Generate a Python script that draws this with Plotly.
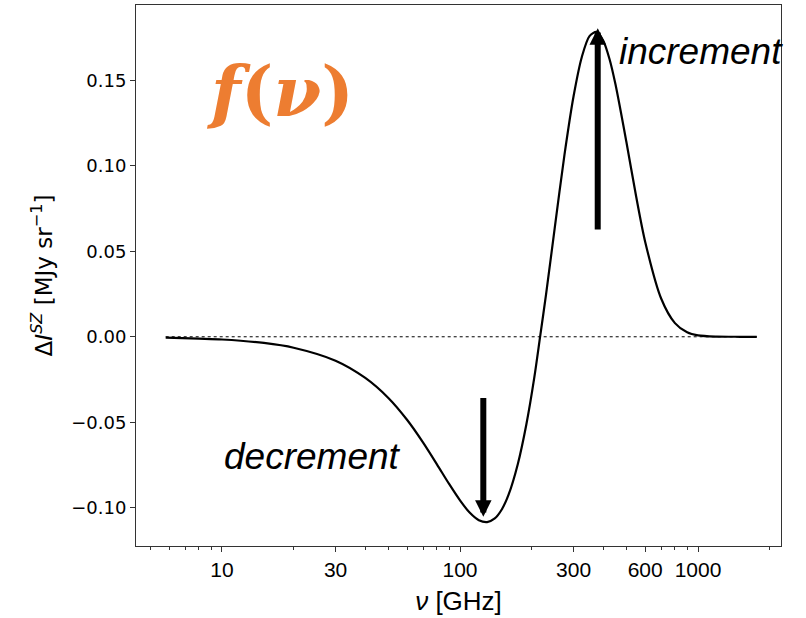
import math
import plotly.graph_objects as go

# ---- data ----
freq_ghz = [5.8, 8, 10, 15, 20, 30, 40, 50, 60, 70, 80, 90, 100, 110, 120, 130, 140,
            150, 160, 175, 190, 205, 217, 230, 250, 275, 300, 325, 350, 375, 400, 425,
            450, 500, 550, 600, 700, 800, 900, 1000, 1200, 1500, 1766]
delta_i = [-0.0005, -0.0011, -0.0016, -0.0036, -0.0064, -0.0140, -0.0241, -0.0358,
           -0.0487, -0.0619, -0.0746, -0.0861, -0.0957, -0.1030, -0.1073, -0.1084,
           -0.1063, -0.1009, -0.0924, -0.0744, -0.0513, -0.0242, 0.0000, 0.0249,
           0.0636, 0.1068, 0.1407, 0.1637, 0.1759, 0.1784, 0.1732, 0.1624, 0.1477,
           0.1141, 0.0819, 0.0555, 0.0224, 0.0080, 0.0026, 0.0008, 0.0001, 0.0000, 0.0000]

x_tick_vals = [10, 30, 100, 300, 600, 1000]
x_tick_text = ["10", "30", "100", "300", "600", "1000"]
x_minor_vals = [5, 6, 7, 8, 9, 20, 40, 50, 60, 70, 80, 90, 200, 400, 500, 700, 800, 900, 2000]
y_tick_vals = [-0.10, -0.05, 0.00, 0.05, 0.10, 0.15]
y_tick_text = ["\u22120.10", "\u22120.05", "0.00", "0.05", "0.10", "0.15"]

# arrows: (frequency, tail value, head value)
decrement_arrow = (125.3, -0.0350, -0.1053)
increment_arrow = (379.0, 0.0619, 0.1805)

fig = go.Figure()
fig.add_trace(go.Scatter(
    x=[freq_ghz[0], freq_ghz[-1]], y=[0, 0], mode="lines",
    line=dict(color="black", width=1, dash="dot"), showlegend=False, hoverinfo="skip"))
fig.add_trace(go.Scatter(
    x=freq_ghz, y=delta_i, mode="lines",
    line=dict(color="black", width=2.2, shape="spline", smoothing=0.8),
    showlegend=False))

for (f, tail, head) in [decrement_arrow, increment_arrow]:
    lx = math.log10(f)
    fig.add_annotation(x=lx, y=head, ax=lx, ay=tail, xref="x", yref="y",
                       axref="x", ayref="y", text="", showarrow=True,
                       arrowhead=2, arrowsize=0.55, arrowwidth=6, arrowcolor="black")

fig.add_annotation(x=2.66, y=0.1668, xref="x", yref="y", text="<i>increment</i>",
                   showarrow=False, xanchor="left", yanchor="middle",
                   font=dict(family="Liberation Sans, Arial", size=37, color="black"))
fig.add_annotation(x=1.0, y=-0.0703, xref="x", yref="y", text="<i>decrement</i>",
                   showarrow=False, xanchor="left", yanchor="middle",
                   font=dict(family="Liberation Sans, Arial", size=37, color="black"))
fig.add_annotation(x=0.105, y=0.84, xref="paper", yref="paper",
                   text="<b><i>f</i>(<i>\u03bd</i>)</b>",
                   showarrow=False, xanchor="left", yanchor="middle",
                   font=dict(family="DejaVu Serif", size=69, color="#ED7D31"))

fig.update_layout(
    width=806, height=618,
    margin=dict(l=136, r=25, t=5, b=72),
    paper_bgcolor="white", plot_bgcolor="white",
    xaxis=dict(
        type="log", range=[0.6387, 3.3487], automargin=False,
        tickmode="array", tickvals=x_tick_vals, ticktext=x_tick_text, tickangle=0,
        ticks="outside", ticklen=5, tickwidth=1, tickcolor="#333",
        minor=dict(tickmode="array", tickvals=x_minor_vals, ticks="outside",
                   ticklen=3, tickwidth=1, tickcolor="#333", showgrid=False),
        showgrid=False, zeroline=False, showline=True, mirror=True,
        linecolor="#333", linewidth=1,
        tickfont=dict(family="Liberation Sans, Arial", size=21, color="black"),
        title=dict(text="<i>\u03bd</i> [GHz]", standoff=11,
                   font=dict(family="Liberation Sans, Arial", size=26, color="black")),
    ),
    yaxis=dict(
        range=[-0.1224, 0.1941], automargin=False,
        tickmode="array", tickvals=y_tick_vals, ticktext=y_tick_text,
        ticks="outside", ticklen=5, tickwidth=1, tickcolor="#333",
        showgrid=False, zeroline=False, showline=True, mirror=True,
        linecolor="#333", linewidth=1,
        tickfont=dict(family="DejaVu Sans", size=18, color="black"),
        title=dict(text="\u0394<i>I</i><sup><i>SZ</i></sup> [MJy sr<sup>\u22121</sup>]",
                   standoff=12, font=dict(family="DejaVu Sans", size=23, color="black")),
    ),
)

fig.write_html("out.html")
